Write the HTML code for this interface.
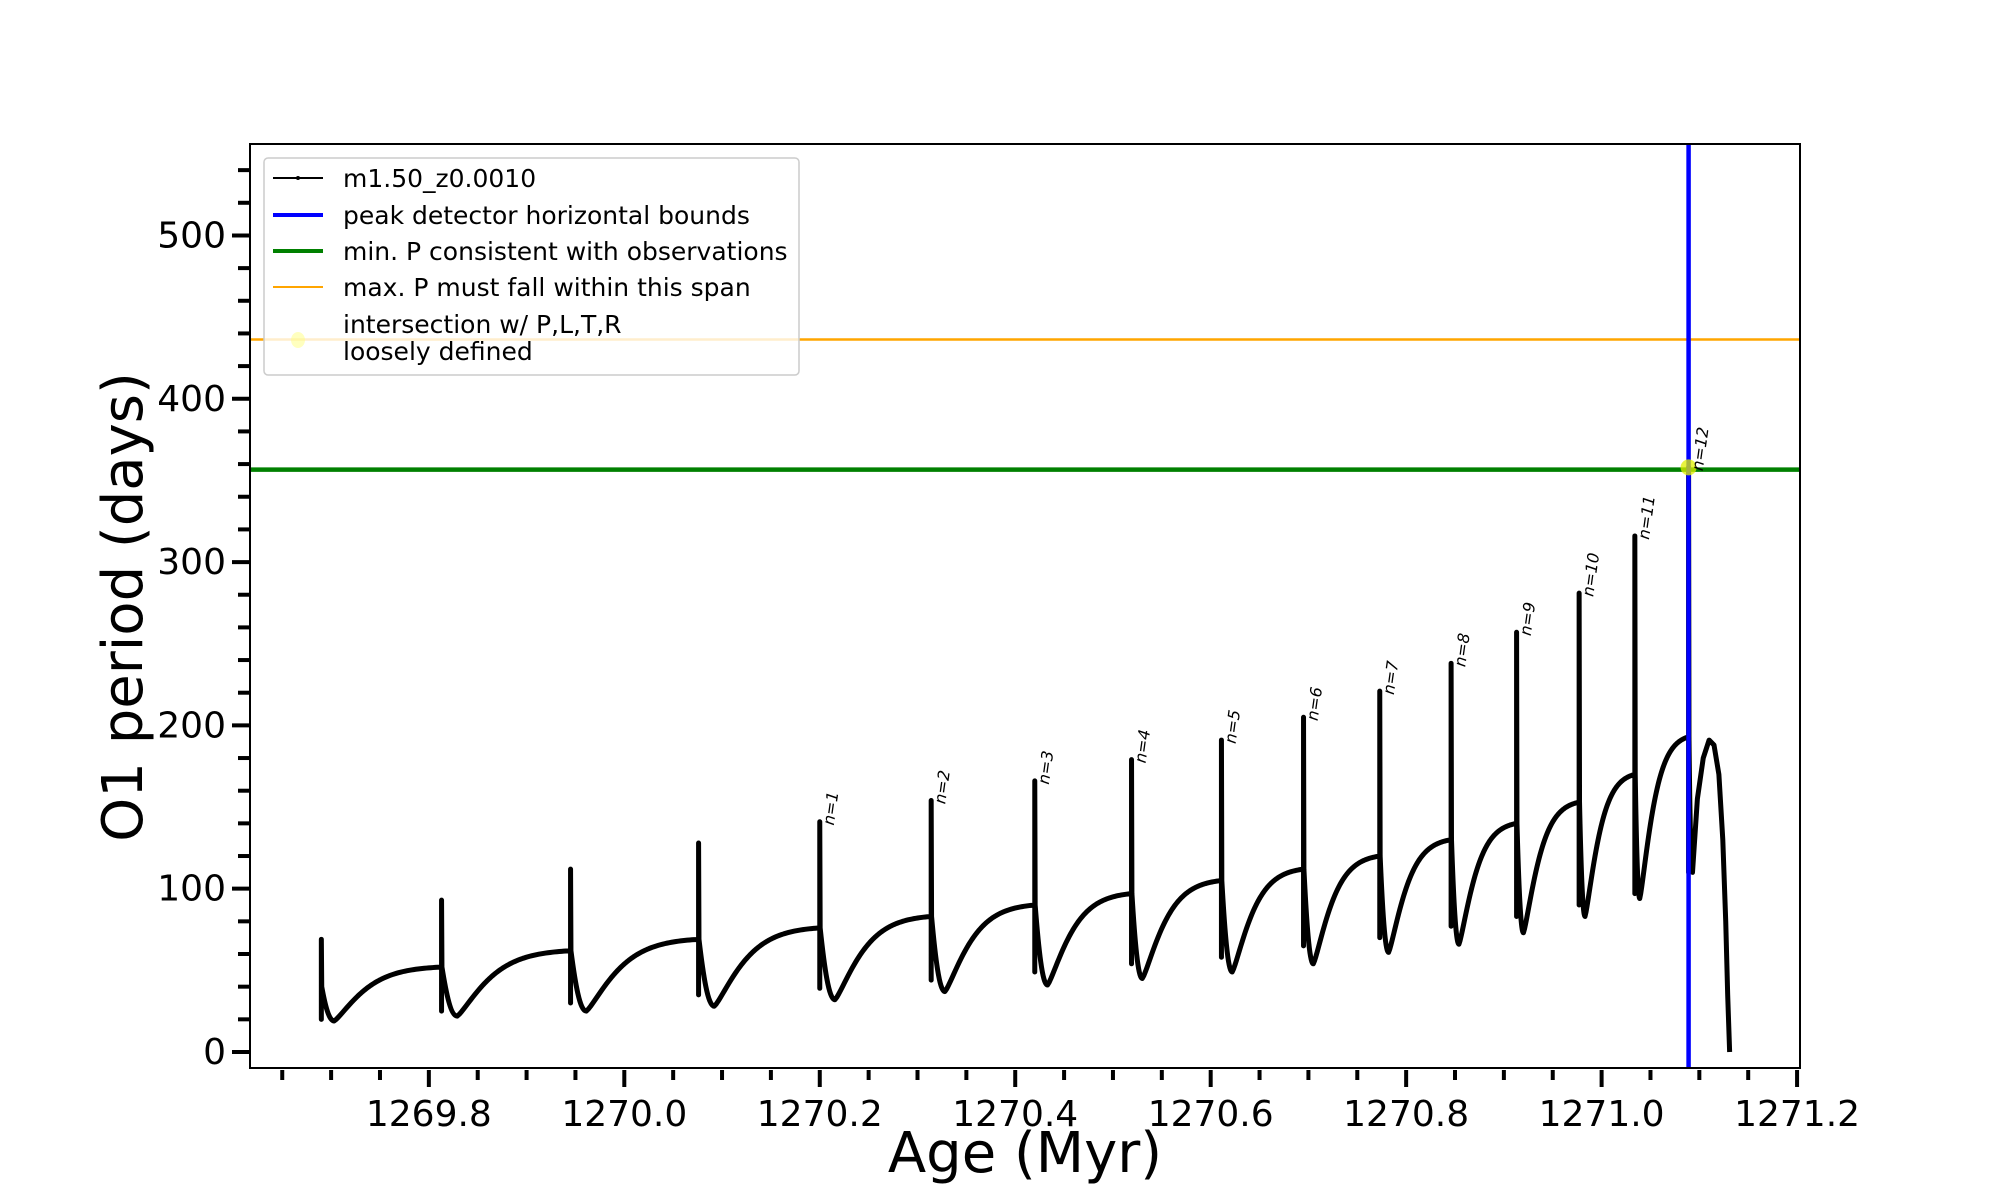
<!DOCTYPE html>
<html><head><meta charset="utf-8"><style>
html,body{margin:0;padding:0;background:#fff;}
svg{display:block;font-family:"DejaVu Sans","Liberation Sans",sans-serif;}
</style></head><body>
<svg id="chart" width="2000" height="1200" viewBox="0 0 2000 1200" xmlns="http://www.w3.org/2000/svg">
<rect width="2000" height="1200" fill="#fff"/>
<g id="plot"></g>
</svg>
<script>
// ---- data ----
const pulseAges = [1269.690,1269.813,1269.945,1270.076,1270.200,1270.314,1270.420,1270.519,1270.611,1270.695,1270.773,1270.846,1270.913,1270.977,1271.034,1271.089];
const spikeTops = [69,93,112,128,141,154,166,179,191,205,221,238,257,281,316,358];
const pulseLows = [20,25,30,35,39,44,49,54,58,65,70,77,83,90,97,110];
const dipMins = [19,22,25,28,32,37,41,45,49,54,61,66,73,83,94,110];
const dipOffsets = [0.013,0.016,0.016,0.016,0.0155,0.014,0.013,0.011,0.011,0.010,0.009,0.008,0.007,0.006,0.005,0.004];
const plateaus = [40,52,62,69,76,83,90,97,105,112,120,130,140,153,170,193];
const tailAges = [1271.098,1271.104,1271.110,1271.115,1271.120,1271.124,1271.127,1271.129,1271.131];
const tailVals = [155,180,191,188,170,130,80,35,0];
const nLabels = ["n=1","n=2","n=3","n=4","n=5","n=6","n=7","n=8","n=9","n=10","n=11","n=12"];
const yTicks = [0,100,200,300,400,500];
const xTicks = [1269.8,1270.0,1270.2,1270.4,1270.6,1270.8,1271.0,1271.2];
const minP = 356.6, maxP = 436.3, boundAge = 1271.089;
const hitAge = 1271.089, hitP = 358;

// ---- axes ----
const L=250,R=1800,T=144,B=1068;
const x0=1269.617,x1=1271.203,y0=-9.8,y1=556;
const X=v=>L+(v-x0)/(x1-x0)*(R-L);
const Y=v=>B-(v-y0)/(y1-y0)*(B-T);
const NS="http://www.w3.org/2000/svg";
const plot=document.getElementById('plot');
function mk(tag,attrs,parent){const e=document.createElementNS(NS,tag);for(const k in attrs)e.setAttribute(k,attrs[k]);(parent||plot).appendChild(e);return e;}

// curve path
let d="";
for(let i=0;i<pulseAges.length;i++){
  const t=pulseAges[i], prev=plateaus[i], dm=dipMins[i], off=dipOffsets[i];
  if(i===0) d+=`M${X(t)},${Y(prev)}`;
  d+=`L${X(t)},${Y(pulseLows[i])}L${X(t)},${Y(spikeTops[i])}L${X(t+0.0004)},${Y(prev)}`;
  const td=t+off;
  d+=`C${X(t+off*0.3)},${Y(dm+(prev-dm)*0.45)} ${X(t+off*0.6)},${Y(dm)} ${X(td)},${Y(dm)}`;
  if(i<pulseAges.length-1){
    const tn=pulseAges[i+1], plat=plateaus[i+1], k=4;
    for(let s=1;s<=50;s++){const f=s/50;const ff=Math.pow(f,1.25);const g=(1-Math.exp(-k*ff))/(1-Math.exp(-k));
      d+=`L${X(td+(tn-td)*f)},${Y(dm+(plat-dm)*g)}`;}
  }
}
for(let j=0;j<tailAges.length;j++) d+=`L${X(tailAges[j])},${Y(tailVals[j])}`;
const curve=mk('path',{d:d,fill:'none',stroke:'#000','stroke-width':5,'stroke-linejoin':'round'});



// horizontal / vertical lines
const lo=mk('line',{x1:L,x2:R,y1:Y(maxP),y2:Y(maxP),stroke:'#ffa500','stroke-width':2.5});


const lg=mk('line',{x1:L,x2:R,y1:Y(minP),y2:Y(minP),stroke:'#008000','stroke-width':4.5});


const lb=mk('line',{x1:X(boundAge),x2:X(boundAge),y1:T,y2:B,stroke:'#0000ff','stroke-width':4.5});


const hp=mk('circle',{cx:X(hitAge),cy:Y(hitP),r:8,fill:'#e0f000','fill-opacity':0.75});



// n labels
for(let i=0;i<nLabels.length;i++){
  const k=i+4, px=X(pulseAges[k])+14, py=Y(spikeTops[k])+4;
  const t=mk('text',{x:0,y:0,transform:`translate(${px},${py}) rotate(-82)`,'font-size':16,'font-style':'italic',fill:'#000'});
  t.textContent=nLabels[i];
  
  
}

// frame
const fr=mk('rect',{x:L,y:T,width:R-L,height:B-T,fill:'none',stroke:'#000','stroke-width':2});



// y ticks
for(let v=20;v<=540;v+=20){
  if(v%100===0) continue;
  mk('line',{x1:L-12,x2:L,y1:Y(v),y2:Y(v),stroke:'#000','stroke-width':4});
}
for(const v of yTicks){
  mk('line',{x1:L-18,x2:L,y1:Y(v),y2:Y(v),stroke:'#000','stroke-width':4});
  const t=mk('text',{x:L-24,y:Y(v)+12,'text-anchor':'end','font-size':36,fill:'#000'});
  t.textContent=String(v);
  
  
}
// x ticks
for(let k=0;k<=31;k++){
  const v=1269.65+k*0.05; const xx=X(v); if(xx>R+1) break;
  const major=Math.abs(Math.round(v*10)/10-v)<1e-6 && Math.round(v*10)%2===0;
  mk('line',{x1:xx,x2:xx,y1:B+2,y2:B+(major?19:12),stroke:'#000','stroke-width':4});
}
for(const v of xTicks){
  const t=mk('text',{x:X(v),y:B+58,'text-anchor':'middle','font-size':36,fill:'#000'});
  t.textContent=v.toFixed(1);
  
  
}
</script>
<svg style="position:absolute;left:0;top:0" width="2000" height="1200" xmlns="http://www.w3.org/2000/svg" font-family="DejaVu Sans, Liberation Sans, sans-serif">
<text x="1025" y="1172" text-anchor="middle" font-size="56" fill="#000">Age (Myr)</text>
<text transform="translate(142,607) rotate(-90)" text-anchor="middle" font-size="56" fill="#000">O1 period (days)</text>
<g>
<rect x="264" y="158" width="535" height="217" rx="4" fill="#fff" fill-opacity="0.8" stroke="#ccc" stroke-width="1.5"/>
<line x1="273" x2="323" y1="178" y2="178" stroke="#000" stroke-width="2"/>
<circle cx="298" cy="178" r="2" fill="#000"/>
<text x="343" y="187" font-size="25">m1.50_z0.0010</text>
<line x1="273" x2="323" y1="215" y2="215" stroke="#0000ff" stroke-width="4"/>
<text x="343" y="224" font-size="25">peak detector horizontal bounds</text>
<line x1="273" x2="323" y1="251" y2="251" stroke="#008000" stroke-width="4"/>
<text x="343" y="260" font-size="25">min. P consistent with observations</text>
<line x1="273" x2="323" y1="287" y2="287" stroke="#ffa500" stroke-width="2"/>
<text x="343" y="296" font-size="25">max. P must fall within this span</text>
<ellipse cx="298" cy="340" rx="7" ry="8" fill="#ffff80" fill-opacity="0.5"/>
<text x="343" y="333" font-size="25">intersection w/ P,L,T,R</text>
<text x="343" y="360" font-size="25">loosely defined</text>
</g>
</svg>
</body></html>
